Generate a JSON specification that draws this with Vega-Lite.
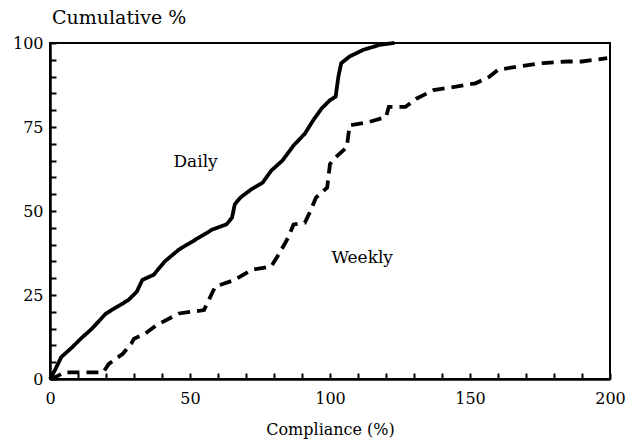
{
  "$schema": "https://vega.github.io/schema/vega-lite/v6.json",
  "width": 560,
  "height": 336,
  "autosize": {"type": "none"},
  "padding": {"left": 50, "top": 43, "right": 18, "bottom": 66},
  "background": "white",
  "config": {
    "font": "DejaVu Serif",
    "view": {"stroke": "black", "strokeWidth": 2},
    "axis": {"grid": false, "domainColor": "black", "domainWidth": 2.5, "ticks": true, "tickColor": "black", "tickOpacity": 1, "tickSize": -6, "tickWidth": 2, "labelColor": "black", "titleColor": "black", "labelFont": "DejaVu Serif", "titleFont": "DejaVu Serif", "titleFontWeight": "normal", "labelOverlap": false, "labelFlush": false, "labelFontSize": 16}
  },
  "title": {"text": "Cumulative %", "anchor": "start", "frame": "group", "font": "DejaVu Serif", "fontSize": 19, "fontWeight": "normal", "color": "black", "offset": 7, "dx": 2},
  "datasets": {
    "curves": [
      {"c": 0, "p": 0, "s": "Daily"}, {"c": 2, "p": 3, "s": "Daily"}, {"c": 4, "p": 6.5, "s": "Daily"}, {"c": 8, "p": 9.5, "s": "Daily"},
      {"c": 11, "p": 12, "s": "Daily"}, {"c": 15, "p": 15, "s": "Daily"}, {"c": 20, "p": 19.5, "s": "Daily"}, {"c": 25, "p": 22, "s": "Daily"},
      {"c": 28, "p": 23.5, "s": "Daily"}, {"c": 31, "p": 26, "s": "Daily"}, {"c": 33, "p": 29.5, "s": "Daily"}, {"c": 37, "p": 31, "s": "Daily"},
      {"c": 41, "p": 35, "s": "Daily"}, {"c": 46, "p": 38.5, "s": "Daily"}, {"c": 52, "p": 41.5, "s": "Daily"}, {"c": 58, "p": 44.5, "s": "Daily"},
      {"c": 63, "p": 46, "s": "Daily"}, {"c": 65, "p": 48, "s": "Daily"}, {"c": 66, "p": 52, "s": "Daily"}, {"c": 68, "p": 54, "s": "Daily"},
      {"c": 72, "p": 56.5, "s": "Daily"}, {"c": 76, "p": 58.5, "s": "Daily"}, {"c": 79, "p": 62, "s": "Daily"}, {"c": 83, "p": 65, "s": "Daily"},
      {"c": 87, "p": 69.5, "s": "Daily"}, {"c": 91, "p": 73, "s": "Daily"}, {"c": 94, "p": 77, "s": "Daily"}, {"c": 97, "p": 80.5, "s": "Daily"},
      {"c": 100, "p": 83, "s": "Daily"}, {"c": 102, "p": 84, "s": "Daily"}, {"c": 103, "p": 90, "s": "Daily"}, {"c": 104, "p": 94, "s": "Daily"},
      {"c": 107, "p": 96, "s": "Daily"}, {"c": 112, "p": 98, "s": "Daily"}, {"c": 118, "p": 99.5, "s": "Daily"}, {"c": 123, "p": 100, "s": "Daily"},
      {"c": 0, "p": 0, "s": "Weekly"}, {"c": 3, "p": 1, "s": "Weekly"}, {"c": 5, "p": 2, "s": "Weekly"}, {"c": 19, "p": 2, "s": "Weekly"},
      {"c": 21, "p": 4.5, "s": "Weekly"}, {"c": 26, "p": 7.5, "s": "Weekly"}, {"c": 29, "p": 10.5, "s": "Weekly"}, {"c": 30, "p": 12, "s": "Weekly"},
      {"c": 34, "p": 13.5, "s": "Weekly"}, {"c": 38, "p": 16, "s": "Weekly"}, {"c": 46, "p": 19.5, "s": "Weekly"}, {"c": 55, "p": 20.5, "s": "Weekly"},
      {"c": 57, "p": 24, "s": "Weekly"}, {"c": 59, "p": 27.5, "s": "Weekly"}, {"c": 66, "p": 29.5, "s": "Weekly"}, {"c": 72, "p": 32.5, "s": "Weekly"},
      {"c": 79, "p": 33.5, "s": "Weekly"}, {"c": 82, "p": 37.5, "s": "Weekly"}, {"c": 85, "p": 42, "s": "Weekly"}, {"c": 87, "p": 46, "s": "Weekly"},
      {"c": 91, "p": 46.5, "s": "Weekly"}, {"c": 93, "p": 50, "s": "Weekly"}, {"c": 95, "p": 54, "s": "Weekly"}, {"c": 99, "p": 57, "s": "Weekly"},
      {"c": 100, "p": 64, "s": "Weekly"}, {"c": 102, "p": 66, "s": "Weekly"}, {"c": 106, "p": 69, "s": "Weekly"}, {"c": 107, "p": 75.5, "s": "Weekly"},
      {"c": 114, "p": 76.5, "s": "Weekly"}, {"c": 120, "p": 78, "s": "Weekly"}, {"c": 121, "p": 81, "s": "Weekly"}, {"c": 127, "p": 81, "s": "Weekly"},
      {"c": 131, "p": 83.5, "s": "Weekly"}, {"c": 137, "p": 86, "s": "Weekly"}, {"c": 145, "p": 87, "s": "Weekly"}, {"c": 152, "p": 88, "s": "Weekly"},
      {"c": 157, "p": 90, "s": "Weekly"}, {"c": 160, "p": 92, "s": "Weekly"}, {"c": 167, "p": 93, "s": "Weekly"}, {"c": 176, "p": 94, "s": "Weekly"},
      {"c": 185, "p": 94.5, "s": "Weekly"}, {"c": 190, "p": 94.5, "s": "Weekly"}, {"c": 199, "p": 95.5, "s": "Weekly"}
    ],
    "labels": [
      {"c": 52, "p": 64.5, "t": "Daily"},
      {"c": 111.5, "p": 36, "t": "Weekly"}
    ]
  },
  "encoding": {
    "x": {"field": "c", "type": "quantitative", "scale": {"domain": [0, 200], "nice": false, "zero": false},
      "axis": {"title": "Compliance (%)", "titleFontSize": 16, "titlePadding": 15, "tickCount": 20,
        "labelExpr": "datum.value % 50 == 0 ? datum.label : ''", "labelPadding": 17}},
    "y": {"field": "p", "type": "quantitative", "scale": {"domain": [0, 100], "nice": false},
      "axis": {"title": null, "tickCount": 20,
        "labelExpr": "datum.value % 25 == 0 ? datum.label : ''", "labelPadding": 13}}
  },
  "layer": [
    {
      "data": {"name": "curves"},
      "mark": {"type": "line", "color": "black", "strokeWidth": 3.8, "strokeCap": "butt", "interpolate": "linear"},
      "encoding": {
        "detail": {"field": "s"},
        "strokeDash": {"field": "s", "type": "nominal", "scale": {"domain": ["Daily", "Weekly"], "range": [[1, 0], [12, 7]]}, "legend": null}
      }
    },
    {
      "data": {"name": "labels"},
      "mark": {"type": "text", "font": "DejaVu Serif", "fontSize": 17, "color": "black", "align": "center", "baseline": "middle"},
      "encoding": {
        "text": {"field": "t"}
      }
    }
  ]
}
